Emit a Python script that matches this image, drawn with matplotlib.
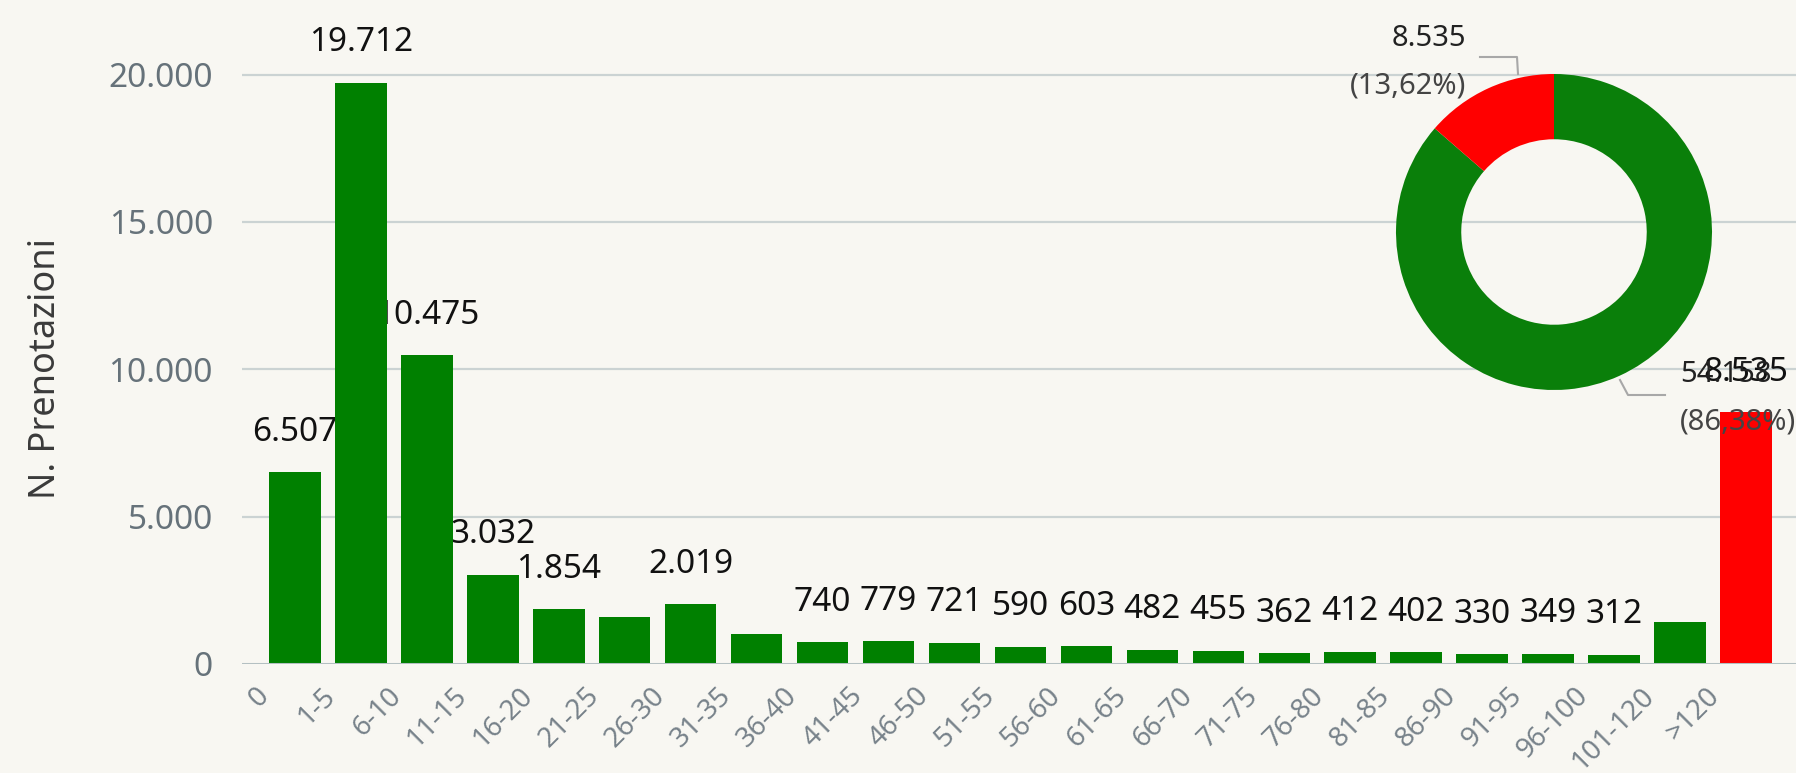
import matplotlib
matplotlib.use("Agg")
import matplotlib.pyplot as plt
import matplotlib.transforms as mtransforms
import numpy as np

# categories (days) and booking counts
categories = ["0", "1-5", "6-10", "11-15", "16-20", "21-25", "26-30", "31-35",
              "36-40", "41-45", "46-50", "51-55", "56-60", "61-65", "66-70",
              "71-75", "76-80", "81-85", "86-90", "91-95", "96-100", "101-120", ">120"]
values = [6507, 19712, 10475, 3032, 1854, 1590, 2019, 1005,
          740, 779, 721, 590, 603, 482, 455,
          362, 412, 402, 330, 349, 312, 1427, 8535]
# labels that the original chart shows (some hidden by overlap)
value_labels = ["6.507", "19.712", "10.475", "3.032", "1.854", "", "2.019", "",
                "740", "779", "721", "590", "603", "482", "455",
                "362", "412", "402", "330", "349", "312", "", "8.535"]
bar_colors = ["#008000"] * 22 + ["#ff0000"]

yticks = [0, 5000, 10000, 15000, 20000]
ytick_labels = ["0", "5.000", "10.000", "15.000", "20.000"]

# donut: within 120 days vs over 120 days
pie_values = [54158, 8535]
pie_colors = ["#0a7f0a", "#ff0000"]
pie_value_labels = ["54.158", "8.535"]
pie_pct_labels = ["(86,38%)", "(13,62%)"]

BG = "#f8f7f2"
W, H = 1796, 773
plt.rcParams["font.family"] = ["Noto Sans", "DejaVu Sans"]

fig = plt.figure(figsize=(W / 100, H / 100), dpi=100, facecolor=BG)

# main bar axes (pixel layout of the reference)
ax = fig.add_axes([242 / W, 1 - 664 / H, 1 - 242 / W, 664 / H])
ax.set_facecolor(BG)
x = np.arange(len(categories))
ax.bar(x, values, width=0.78, color=bar_colors, zorder=3)

# value labels, drawn beneath the bars like the original
off = mtransforms.offset_copy(ax.transData, fig=fig, x=0, y=40, units="dots")
for xi, v, lab in zip(x, values, value_labels):
    if lab:
        ax.text(xi, v, lab, transform=off, ha="center", va="center",
                fontsize=24, color="#111111", zorder=1)

ax.set_xlim(-0.804, 22.76)
ax.set_ylim(0, 664 / 0.029475)
ax.set_yticks(yticks)
ax.set_yticklabels(ytick_labels)
for yv in yticks[1:]:
    ax.axhline(yv, color="#cbd3d3", lw=1.6, zorder=0)
ax.axhline(0, color="#b4c0c2", lw=2.2, zorder=4)
for s in ax.spines.values():
    s.set_visible(False)
ax.tick_params(axis="y", length=0, pad=21, labelsize=24, labelcolor="#66727a")
ax.set_xticks(x)
ax.set_xticklabels(categories, rotation=45, ha="right", va="top",
                   fontsize=20, color="#77828a")
ax.tick_params(axis="x", length=0, pad=13)
shift = mtransforms.ScaledTranslation(-20 / 100, 0, fig.dpi_scale_trans)
for lbl in ax.get_xticklabels():
    lbl.set_transform(lbl.get_transform() + shift)

fig.text(46 / W, 1 - 369 / H, "N. Prenotazioni", rotation=90, ha="center",
         va="center", fontsize=26, color="#3a3a3a")

# donut chart in the upper right
cx, cy, r = 1554, 232, 158
pax = fig.add_axes([(cx - r) / W, 1 - (cy + r) / H, 2 * r / W, 2 * r / H])
pax.pie(pie_values, colors=pie_colors, startangle=90, counterclock=False,
        radius=1, wedgeprops=dict(width=0.413, linewidth=0))
pax.set_xlim(-1, 1)
pax.set_ylim(-1, 1)
pax.axis("off")

# overlay in pixel coords for leader lines and donut labels
ov = fig.add_axes([0, 0, 1, 1])
ov.set_xlim(0, W)
ov.set_ylim(H, 0)
ov.axis("off")
ov.patch.set_alpha(0)
ov.plot([1480, 1517, 1518], [57, 57, 74], color="#a8a8a8", lw=1.5)
ov.plot([1620, 1628, 1665], [380, 395, 395], color="#a8a8a8", lw=1.5)
ov.text(1466, 38, pie_value_labels[1], ha="right", va="center", fontsize=21, color="#222222")
ov.text(1466, 86, pie_pct_labels[1], ha="right", va="center", fontsize=21, color="#444444")
ov.text(1680, 375, pie_value_labels[0], ha="left", va="center", fontsize=21, color="#222222")
ov.text(1680, 422, pie_pct_labels[0], ha="left", va="center", fontsize=21, color="#444444")

fig.savefig("out.png", dpi=100, facecolor=BG)
